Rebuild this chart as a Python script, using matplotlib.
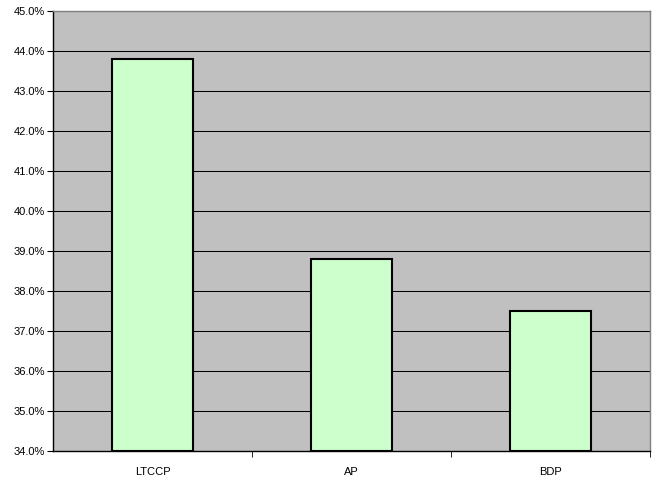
import matplotlib
matplotlib.use("Agg")
import matplotlib.pyplot as plt
from matplotlib.ticker import FuncFormatter, MultipleLocator, FixedLocator

categories = ["LTCCP", "AP", "BDP"]
values = [43.8, 38.8, 37.5]

plt.rcParams['font.family'] = ['Liberation Sans', 'DejaVu Sans']

fig = plt.figure(figsize=(6.59, 4.86), dpi=100)
ax = fig.add_axes([53/659, 1 - 450.7/486, (650-53)/659, (450.7-11)/486])
ax.set_facecolor('#C0C0C0')

x = list(range(len(categories)))
ax.bar(x, [v - 34 for v in values], bottom=34, width=0.41,
       color='#CCFFCC', edgecolor='black', linewidth=1.5, zorder=3)

ax.set_xlim(-0.5, 2.5)
ax.set_ylim(34, 45)
ax.yaxis.set_major_locator(MultipleLocator(1))
ax.yaxis.set_major_formatter(FuncFormatter(lambda v, p: f"{v:.1f}%"))
ax.grid(axis='y', color='black', linewidth=0.75, zorder=1)
ax.set_axisbelow(True)

ax.set_xticks(x)
ax.set_xticklabels(categories)
ax.tick_params(axis='x', which='major', length=0, pad=12)
ax.xaxis.set_minor_locator(FixedLocator([0.5, 1.5, 2.5]))
ax.tick_params(axis='x', which='minor', length=4, direction='out', color='black')
ax.tick_params(axis='y', length=4, direction='out', color='black', pad=2)
ax.tick_params(labelsize=8)

for s in ['top', 'right']:
    ax.spines[s].set_color('#808080')
    ax.spines[s].set_linewidth(1.0)
for s in ['left', 'bottom']:
    ax.spines[s].set_color('black')
    ax.spines[s].set_linewidth(1.0)

fig.savefig("out.png", dpi=100)
